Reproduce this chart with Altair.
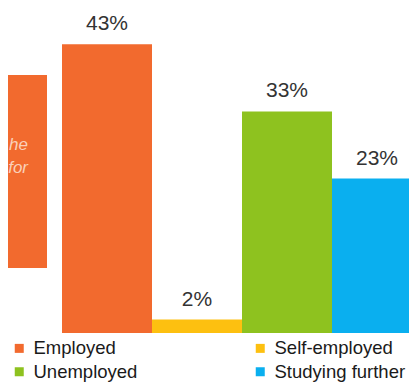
import altair as alt
import pandas as pd

categories = ["Employed", "Self-employed", "Unemployed", "Studying further"]
values = [43, 2, 33, 23]
labels = ["43%", "2%", "33%", "23%"]
colors = ["#F26A2E", "#FDC010", "#8EC21F", "#0AAFEF"]
legend_order = ["Employed", "Unemployed", "Self-employed", "Studying further"]
note_lines = ["he", "for"]

color_of = dict(zip(categories, colors))
df = pd.DataFrame({"cat": categories, "val": values, "lab": labels})
df["start"] = list(range(len(categories)))
df["end"] = df["start"] + 1
df["mid"] = df["start"] + 0.5

xscale = alt.Scale(domain=[0, 4], range=[0, 360], nice=False, zero=False)
yscale = alt.Scale(domain=[0, 48.4], nice=False, zero=True)

bars = alt.Chart(df).mark_rect(clip=True).encode(
    x=alt.X("start:Q", axis=None, scale=xscale),
    x2="end:Q",
    y=alt.Y("val:Q", axis=None, scale=yscale),
    y2=alt.datum(0),
    color=alt.Color("cat:N",
                    scale=alt.Scale(domain=legend_order, range=[color_of[c] for c in legend_order]),
                    legend=alt.Legend(orient="none", legendX=-52, legendY=331,
                                      columns=2, columnPadding=113, rowPadding=4.5,
                                      title=None, symbolType="square", symbolSize=81,
                                      symbolStrokeWidth=0, symbolOpacity=1,
                                      labelFont="Liberation Sans", labelFontSize=18.5,
                                      labelColor="#1a1a1a", labelOffset=5,
                                      padding=0)),
)

text = alt.Chart(df).mark_text(baseline="alphabetic", dy=-14, font="Liberation Sans",
                               fontSize=21, color="#333333", clip=True).encode(
    x=alt.X("mid:Q", axis=None, scale=xscale),
    y=alt.Y("val:Q", axis=None, scale=yscale),
    text="lab:N")

box = alt.Chart(pd.DataFrame({"a": [1]})).mark_rect(color="#F26A2E").encode(
    x=alt.value(-54), x2=alt.value(-15), y=alt.value(67), y2=alt.value(260))

note_df = pd.DataFrame({"t": note_lines, "i": [0, 1]})
note = alt.Chart(note_df).mark_text(align="right", baseline="alphabetic", font="Liberation Sans",
                                    fontSize=17, fontStyle="italic", color="#FAD0B8").encode(
    x=alt.value(-34),
    y=alt.Y("i:Q", axis=None, scale=alt.Scale(domain=[0, 1], range=[142, 165], nice=False, zero=False)),
    text="t:N")

chart = alt.layer(box, note, bars, text).properties(
    width=347, height=325,
    padding={"left": 54, "top": 0, "right": 0, "bottom": 53},
    autosize=alt.AutoSizeParams(type="none"),
).configure_view(stroke=None).resolve_scale(y="independent")

chart.save("out.html", embed_options={"renderer": "svg", "actions": False})
